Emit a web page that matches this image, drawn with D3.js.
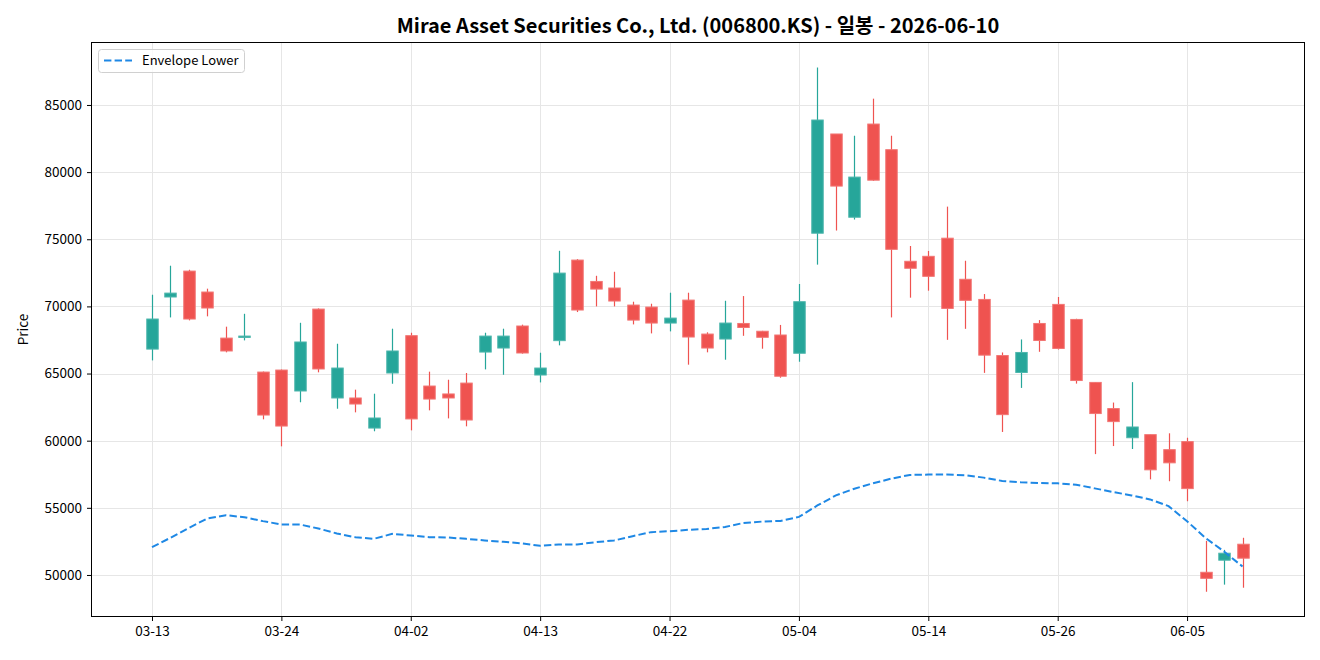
<!DOCTYPE html>
<html>
<head>
<meta charset="utf-8">
<script src="https://cdn.jsdelivr.net/npm/d3@7"></script>
<style>
    body { margin: 0; background: #fff; }
    svg { display: block; font-family: "Noto Sans CJK KR", "Noto Sans", sans-serif; }
</style>
</head>
<body>
<script>
// Trading days (Korean market, holidays skipped)
const dates = [
    "03-13", "03-16", "03-17", "03-18", "03-19", "03-20", "03-23", "03-24", "03-25", "03-26",
    "03-27", "03-30", "03-31", "04-01", "04-02", "04-03", "04-06", "04-07", "04-08", "04-09",
    "04-10", "04-13", "04-14", "04-15", "04-16", "04-17", "04-20", "04-21", "04-22", "04-23",
    "04-24", "04-27", "04-28", "04-29", "04-30", "05-04", "05-06", "05-07", "05-08", "05-11",
    "05-12", "05-13", "05-14", "05-15", "05-18", "05-19", "05-20", "05-21", "05-22", "05-26",
    "05-27", "05-28", "05-29", "06-01", "06-02", "06-04", "06-05", "06-08", "06-09", "06-10"
];
const open = [
    66820, 70700, 72630, 71070, 67640, 67690, 65110, 65260, 63700, 69800,
    63180, 63180, 60940, 65040, 67820, 64070, 63480, 64290, 66600, 66900,
    68540, 64890, 67450, 73450, 71860, 71370, 70100, 69950, 68760, 70470,
    67940, 67570, 68730, 68150, 67870, 66510, 75450, 82840, 76640, 83580,
    81670, 73360, 73730, 75080, 72020, 70520, 66340, 65080, 68730, 70150,
    69030, 64340, 62390, 60220, 60450, 59330, 59930, 50200, 51100, 52290
];
const high = [
    70870, 73030, 72730, 71320, 68490, 69450, 65150, 65300, 68780, 69850,
    67220, 63800, 63500, 68340, 68040, 65140, 64540, 65040, 68040, 68340,
    68640, 66550, 74140, 73520, 72280, 72580, 70350, 70200, 71020, 71020,
    68070, 70420, 70770, 68180, 68620, 71670, 87790, 82840, 82710, 85470,
    82710, 74500, 74130, 77430, 73400, 70920, 66570, 67540, 68980, 70700,
    69080, 64350, 62840, 64360, 60450, 60550, 60220, 52540, 51870, 52770
];
const low = [
    65980, 69180, 68960, 69260, 66580, 67470, 61590, 59580, 62860, 65090,
    62380, 62110, 60700, 64240, 60770, 62260, 61660, 61070, 65310, 64910,
    66480, 64340, 67100, 69580, 70000, 70000, 68660, 67990, 68140, 65660,
    66580, 66030, 67810, 66850, 64690, 65880, 73110, 75650, 76470, 79350,
    69180, 70650, 71170, 67510, 68330, 65050, 60650, 63930, 66620, 66790,
    64250, 59000, 59600, 59380, 57120, 56980, 55490, 48750, 49280, 49050
];
const close = [
    69060, 70990, 69060, 69880, 66680, 67790, 61910, 61090, 67350, 65340,
    65410, 62730, 61690, 66680, 61620, 63100, 63180, 61540, 67790, 67790,
    66530, 65410, 72480, 69730, 71290, 70400, 68980, 68760, 69130, 67720,
    66900, 68760, 68430, 67700, 64800, 70350, 83880, 78960, 79630, 79400,
    74250, 72840, 72240, 69850, 70450, 66370, 61940, 66570, 67460, 66870,
    64480, 62020, 61420, 61020, 57830, 58350, 56430, 49750, 51620, 51250
];
const envLower = [
    52070, 52770, 53510, 54210, 54450, 54300, 54010, 53760, 53760, 53460,
    53090, 52810, 52690, 53060, 52940, 52810, 52790, 52690, 52570, 52470,
    52350, 52170, 52270, 52270, 52440, 52570, 52890, 53190, 53260, 53360,
    53425, 53575, 53875, 53975, 54025, 54325, 55175, 55925, 56425, 56825,
    57175, 57450, 57475, 57475, 57425, 57250, 57000, 56900, 56850, 56825,
    56725, 56450, 56175, 55925, 55625, 55125, 54000, 52750, 51750, 50625
];
const yTicks = [50000, 55000, 60000, 65000, 70000, 75000, 80000, 85000];
const title = "Mirae Asset Securities Co., Ltd. (006800.KS) - 일봉 - 2026-06-10";

const width = 1320;
const height = 660;
const margin = {top: 42, right: 15, bottom: 43, left: 91};

const upColor = "#26a69a";
const downColor = "#ef5350";
const gridColor = "#e6e6e6";
const tickFont = 13.5;

const candles = dates.map((d, i) => ({
    i, date: d, open: open[i], high: high[i], low: low[i], close: close[i]
}));

// x is the candle index, padded like matplotlib's auto margins
const x = d3.scaleLinear()
    .domain([-3.3, candles.length - 1 + 3.38])
    .range([margin.left, width - margin.right]);
const y = d3.scaleLinear()
    .domain([46870, 89690])
    .range([height - margin.bottom, margin.top]);

const svg = d3.select("body").append("svg")
    .attr("width", width)
    .attr("height", height)
    .attr("viewBox", [0, 0, width, height]);

// Grid
const xTickIdx = d3.range(0, candles.length, 7);

svg.append("g")
    .attr("stroke", gridColor)
    .attr("stroke-width", 1)
    .call(g => g.selectAll(".gx").data(xTickIdx).join("line")
        .attr("x1", d => Math.round(x(d)) + 0.5).attr("x2", d => Math.round(x(d)) + 0.5)
        .attr("y1", margin.top).attr("y2", height - margin.bottom))
    .call(g => g.selectAll(".gy").data(yTicks).join("line")
        .attr("x1", margin.left).attr("x2", width - margin.right)
        .attr("y1", d => Math.round(y(d)) + 0.5).attr("y2", d => Math.round(y(d)) + 0.5));

// Candles
const bodyW = x(0.62) - x(0);
const candle = svg.append("g")
    .selectAll("g")
    .data(candles)
    .join("g")
    .attr("transform", d => `translate(${Math.round(x(d.i)) + 0.5},0)`);

candle.append("line")
    .attr("y1", d => y(d.high))
    .attr("y2", d => y(d.low))
    .attr("stroke", d => d.close >= d.open ? upColor : downColor)
    .attr("stroke-width", 1.2);

candle.append("rect")
    .attr("x", -bodyW / 2)
    .attr("width", bodyW)
    .attr("y", d => y(Math.max(d.open, d.close)))
    .attr("height", d => Math.max(1, Math.abs(y(d.open) - y(d.close))))
    .attr("fill", d => d.close >= d.open ? upColor : downColor)
    .attr("stroke", d => d.close >= d.open ? "#4db6ac" : "#f27573")
    .attr("stroke-width", 1);

// Envelope lower line
const line = d3.line()
    .x((d, i) => x(i))
    .y(d => y(d));

svg.append("path")
    .datum(envLower)
    .attr("fill", "none")
    .attr("stroke", "#1e88e5")
    .attr("stroke-width", 2)
    .attr("stroke-dasharray", "7.4,3.2")
    .attr("d", line);

// Axes
const xAxis = d3.axisBottom(x)
    .tickValues(xTickIdx)
    .tickFormat(i => dates[i])
    .tickSize(4)
    .tickPadding(5);

svg.append("g")
    .attr("transform", `translate(0,${height - margin.bottom})`)
    .call(xAxis)
    .call(g => g.select(".domain").remove())
    .call(g => g.selectAll("text").attr("font-size", tickFont).attr("fill", "#000")
        .style("font-family", "'Noto Sans CJK KR', sans-serif"));

const yAxis = d3.axisLeft(y)
    .tickValues(yTicks)
    .tickFormat(d3.format("d"))
    .tickSize(4)
    .tickPadding(5);

svg.append("g")
    .attr("transform", `translate(${margin.left},0)`)
    .call(yAxis)
    .call(g => g.select(".domain").remove())
    .call(g => g.selectAll("text").attr("font-size", tickFont).attr("fill", "#000")
        .style("font-family", "'Noto Sans CJK KR', sans-serif"));

// Frame
svg.append("rect")
    .attr("x", margin.left + 0.5)
    .attr("y", margin.top + 0.5)
    .attr("width", width - margin.left - margin.right - 1)
    .attr("height", height - margin.top - margin.bottom - 1)
    .attr("fill", "none")
    .attr("stroke", "#000")
    .attr("stroke-width", 1);

// Y label
svg.append("text")
    .attr("transform", `translate(28,${(margin.top + height - margin.bottom) / 2}) rotate(-90)`)
    .attr("text-anchor", "middle")
    .attr("font-size", 13.5)
    .text("Price");

// Title
svg.append("text")
    .attr("x", (margin.left + width - margin.right) / 2)
    .attr("y", 33)
    .attr("text-anchor", "middle")
    .attr("font-size", 20)
    .attr("font-weight", "bold")
    .text(title);

// Legend
const legend = svg.append("g").attr("transform", "translate(98,49)");
legend.append("rect")
    .attr("x", 0.5).attr("y", 0.5)
    .attr("width", 146).attr("height", 23)
    .attr("rx", 3)
    .attr("fill", "#fff")
    .attr("fill-opacity", 0.8)
    .attr("stroke", "#d0d0d0");
legend.append("line")
    .attr("x1", 6).attr("x2", 34)
    .attr("y1", 11.5).attr("y2", 11.5)
    .attr("stroke", "#1e88e5")
    .attr("stroke-width", 2)
    .attr("stroke-dasharray", "7.4,3.2");
legend.append("text")
    .attr("x", 44).attr("y", 16)
    .attr("font-size", 13)
    .text("Envelope Lower");
</script>
</body>
</html>
